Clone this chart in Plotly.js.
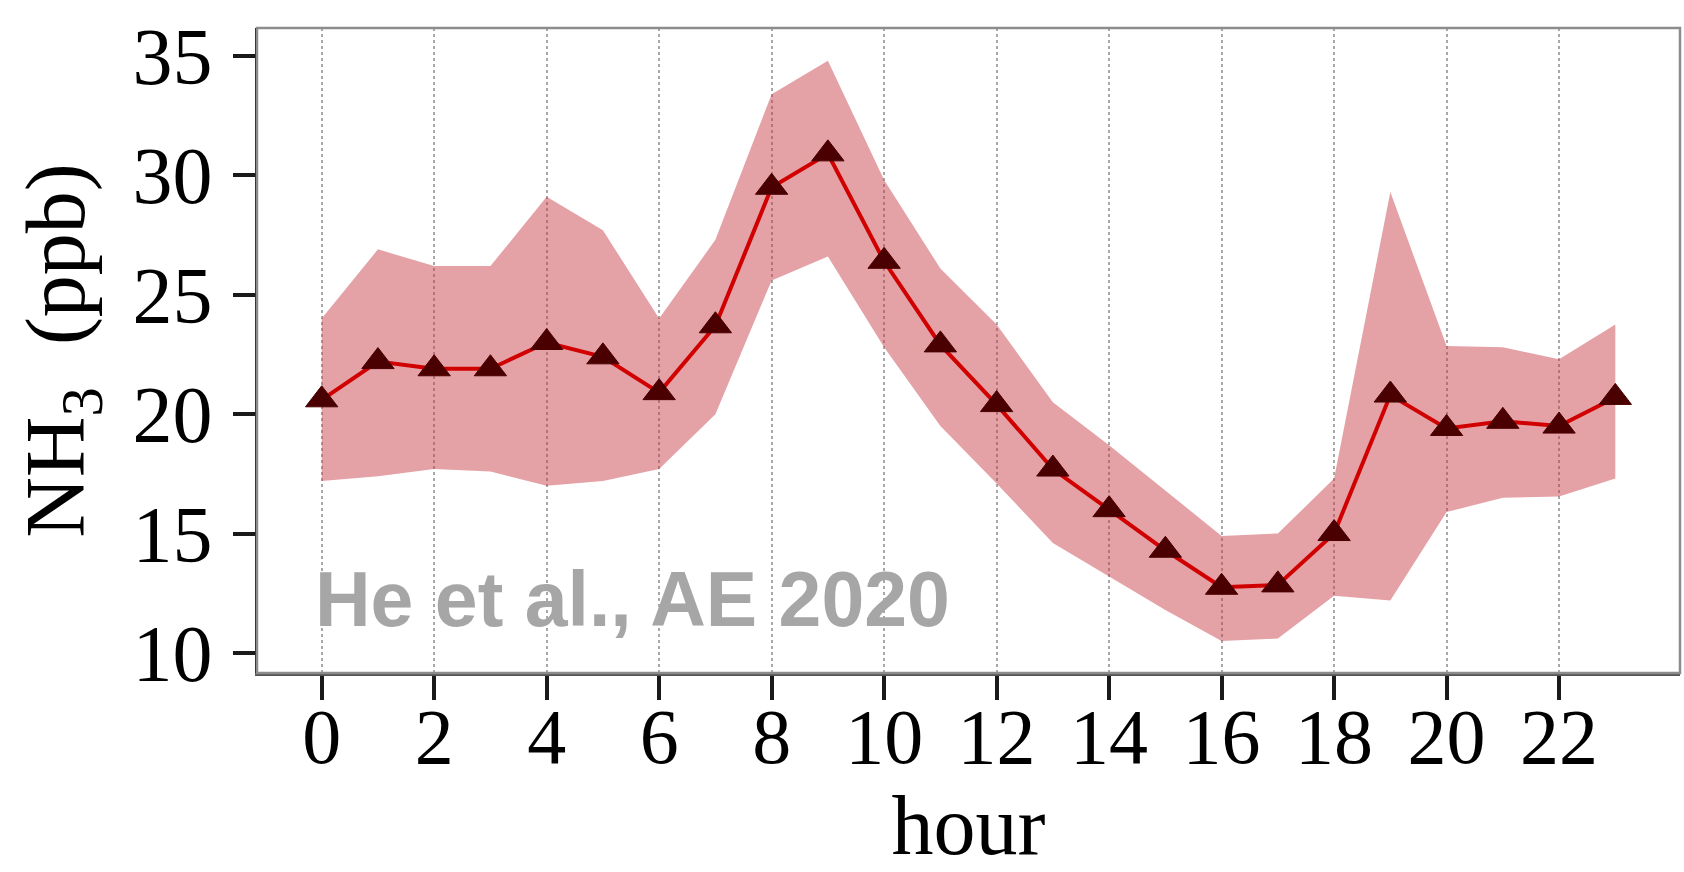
<!DOCTYPE html>
<html>
<head>
<meta charset="utf-8">
<script src="https://cdn.plot.ly/plotly-3.0.1.min.js"></script>
<style>
  html, body { margin: 0; padding: 0; background: #ffffff; }
  #chart { width: 1684px; height: 872px; }
</style>
</head>
<body>
<div id="chart"></div>
<script>
// ---- data ----
const hours = [0,1,2,3,4,5,6,7,8,9,10,11,12,13,14,15,16,17,18,19,20,21,22,23];
const nh3Mean  = [20.6, 22.2, 21.9, 21.9, 23.0, 22.4, 20.9, 23.7, 29.5, 30.9, 26.4, 22.9,
                  20.4, 17.7, 16.0, 14.3, 12.75, 12.85, 15.0, 20.8, 19.4, 19.7, 19.5, 20.7];
const nh3Upper = [24.0, 26.9, 26.2, 26.2, 29.1, 27.7, 24.0, 27.3, 33.4, 34.8, 29.8, 26.1,
                  23.75, 20.5, 18.7, 16.8, 14.9, 15.0, 17.3, 29.3, 22.85, 22.8, 22.3, 23.75];
const nh3Lower = [17.2, 17.4, 17.7, 17.6, 17.0, 17.2, 17.7, 20.0, 25.6, 26.6, 22.8, 19.5,
                  17.1, 14.6, 13.2, 11.8, 10.5, 10.6, 12.4, 12.2, 15.9, 16.5, 16.55, 17.3];
const xTickVals = [0,2,4,6,8,10,12,14,16,18,20,22];
const yTickVals = [10,15,20,25,30,35];
const xTitle = 'hour';
const yTitle = 'NH<sub>3</sub>\u00a0\u00a0(ppb)';
const watermark = 'He et al., AE 2020';

const serif = 'Liberation Serif, Times New Roman, serif';

const traces = [
  { x: hours, y: nh3Lower, type: 'scatter', mode: 'lines',
    line: { width: 0, color: 'rgba(0,0,0,0)' }, hoverinfo: 'skip', showlegend: false },
  { x: hours, y: nh3Upper, type: 'scatter', mode: 'lines', fill: 'tonexty',
    fillcolor: 'rgba(198,56,66,0.47)',
    line: { width: 0, color: 'rgba(0,0,0,0)' }, hoverinfo: 'skip', showlegend: false },
  { x: hours, y: nh3Mean, type: 'scatter', mode: 'lines+markers',
    line: { color: '#d10000', width: 4 },
    marker: { symbol: 'triangle-up', size: 28, color: '#4a0000',
              line: { color: '#4a0000', width: 1 } },
    showlegend: false }
];

const layout = {
  width: 1684, height: 872,
  margin: { l: 257, r: 4, t: 28, b: 199 },
  paper_bgcolor: '#ffffff', plot_bgcolor: '#ffffff',
  showlegend: false,
  font: { family: serif, color: '#000000' },
  xaxis: {
    range: [-1.15, 24.15],
    tickmode: 'array', tickvals: xTickVals,
    ticks: 'outside', ticklen: 24, tickwidth: 4, tickcolor: '#1a1a1a',
    tickfont: { family: serif, size: 78, color: '#000000' },
    ticklabelstandoff: -30,
    showgrid: true, gridcolor: '#a8a8a8', gridwidth: 2, griddash: 'dot',
    zeroline: false,
    showline: true, linecolor: '#555555', linewidth: 2.5,
    title: { text: xTitle, font: { family: serif, size: 84, color: '#000000' }, standoff: 16 }
  },
  yaxis: {
    range: [9.16, 36.17],
    tickmode: 'array', tickvals: yTickVals,
    ticks: 'outside', ticklen: 22, tickwidth: 4, tickcolor: '#1a1a1a',
    tickfont: { family: serif, size: 80, color: '#000000' },
    ticklabelstandoff: 4,
    showgrid: false, zeroline: false,
    showline: true, linecolor: '#1a1a1a', linewidth: 2.5,
    title: { text: yTitle, font: { family: serif, size: 84, color: '#000000' }, standoff: 20 }
  },
  shapes: [
    { type: 'rect', xref: 'paper', yref: 'paper', x0: 0, x1: 1, y0: 0, y1: 1,
      line: { color: '#8c8c8c', width: 2.5 }, fillcolor: 'rgba(0,0,0,0)', layer: 'above' }
  ],
  annotations: [
    { text: '<b>' + watermark + '</b>', xref: 'paper', yref: 'paper',
      x: 0.2639, y: 0.114, xanchor: 'center', yanchor: 'middle', showarrow: false,
      font: { family: 'Liberation Sans, Arial, sans-serif', size: 77, color: '#a6a6a6' } }
  ]
};

Plotly.newPlot('chart', traces, layout, { displayModeBar: false, staticPlot: true });
</script>
</body>
</html>
